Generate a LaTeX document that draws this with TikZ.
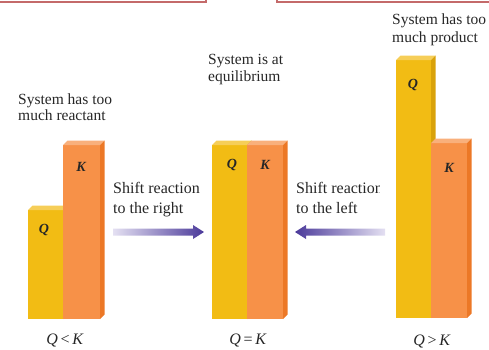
\documentclass[tikz,border=0pt]{standalone}
\usepackage{fontspec}
\setmainfont{Liberation Serif}
\definecolor{qfront}{HTML}{F2BC14}
\definecolor{qtop}{HTML}{F6CE58}
\definecolor{qside}{HTML}{D9A20A}
\definecolor{kfront}{HTML}{F79148}
\definecolor{ktop}{HTML}{F9B07C}
\definecolor{kside}{HTML}{EC7826}
\definecolor{txt}{HTML}{262626}
\definecolor{arrdark}{HTML}{4B3A9A}
\definecolor{arrlight}{HTML}{E4E0F2}
\definecolor{redline}{HTML}{C46A6A}
\newcommand\drawbar[5]{%
  \fill[#5front] (#1,#3) rectangle (#2,#4);
  \fill[#5top] (#1,#3) -- (#1+4.5,#3-4.5) -- (#2+4.5,#3-4.5) -- (#2,#3) -- cycle;
  \fill[#5side] (#2,#3) -- (#2+4.5,#3-4.5) -- (#2+4.5,#4-4.5) -- (#2,#4) -- cycle;
}
\tikzset{
  captxt/.style={anchor=base west, inner sep=0pt, text=txt, font=\fontsize{15.5}{18}\selectfont},
  shiftlbl/.style={anchor=base west, inner sep=0pt, text=txt, font=\fontsize{16}{19}\selectfont},
  barlbl/.style={inner sep=0pt, text=black!85, font=\fontsize{14}{16}\selectfont\bfseries\itshape},
  rel/.style={inner sep=0pt, text=txt, font=\fontsize{16}{18}\selectfont}
}
\begin{document}
\begin{tikzpicture}[x=1pt,y=-1pt]
\useasboundingbox (0,0) rectangle (489,349);
% top red lines
\draw[redline, line width=1.2pt] (0,2) -- (206,2) -- (206,0);
\draw[redline, line width=1.2pt] (277,0) -- (277,2) -- (489,2);
% captions
\node[captxt] (l1) at (18,104) {System has too};
\node[captxt] (l2) at (18,120) {much reactant};
\node[captxt] (m1) at (208,64) {System is at};
\node[captxt] (m2) at (208,81) {equilibrium};
\node[captxt] (r1) at (392,24) {System has too};
\node[captxt] (r2) at (392,42) {much product};
% shift labels
\node[shiftlbl] (s1) at (113,193) {Shift reaction};
\node[shiftlbl] (s2) at (113,213) {to the right};
\begin{scope}
\clip (0,0) rectangle (379,349);
\node[shiftlbl] (t1) at (296,193) {Shift reaction};
\end{scope}
\node[shiftlbl] (t2) at (296,213) {to the left};
% arrows
\shade[left color=arrlight, right color=arrdark]
  (113,228.5) -- (193,228.5) -- (193,225) -- (204,232) -- (193,239) -- (193,235.5) -- (113,235.5) -- cycle;
\shade[left color=arrdark, right color=arrlight]
  (385,228.5) -- (306,228.5) -- (306,225) -- (295,232) -- (306,239) -- (306,235.5) -- (385,235.5) -- cycle;
% bars left
\drawbar{28}{63}{210}{319}{q}
\drawbar{63}{100}{145}{319}{k}
% bars middle
\drawbar{212}{247}{145}{319}{q}
\drawbar{247}{283}{145}{319}{k}
% bars right
\drawbar{396}{431}{60}{318}{q}
\drawbar{431}{467}{143}{318}{k}
% bar labels
\node[barlbl] (lq) at (44,230) {Q};
\node[barlbl] (lk) at (81,167) {K};
\node[barlbl] (mq) at (232,165) {Q};
\node[barlbl] (mk) at (265,165) {K};
\node[barlbl] (rq) at (413,85) {Q};
\node[barlbl] (rk) at (449,168) {K};
% relations
\node[rel] (ql) at (65,340) {\textit{Q}\,<\,\textit{K}};
\node[rel] (qm) at (248,340) {\textit{Q}\,=\,\textit{K}};
\node[rel] (qr) at (432,341) {\textit{Q}\,>\,\textit{K}};
\end{tikzpicture}
\end{document}
